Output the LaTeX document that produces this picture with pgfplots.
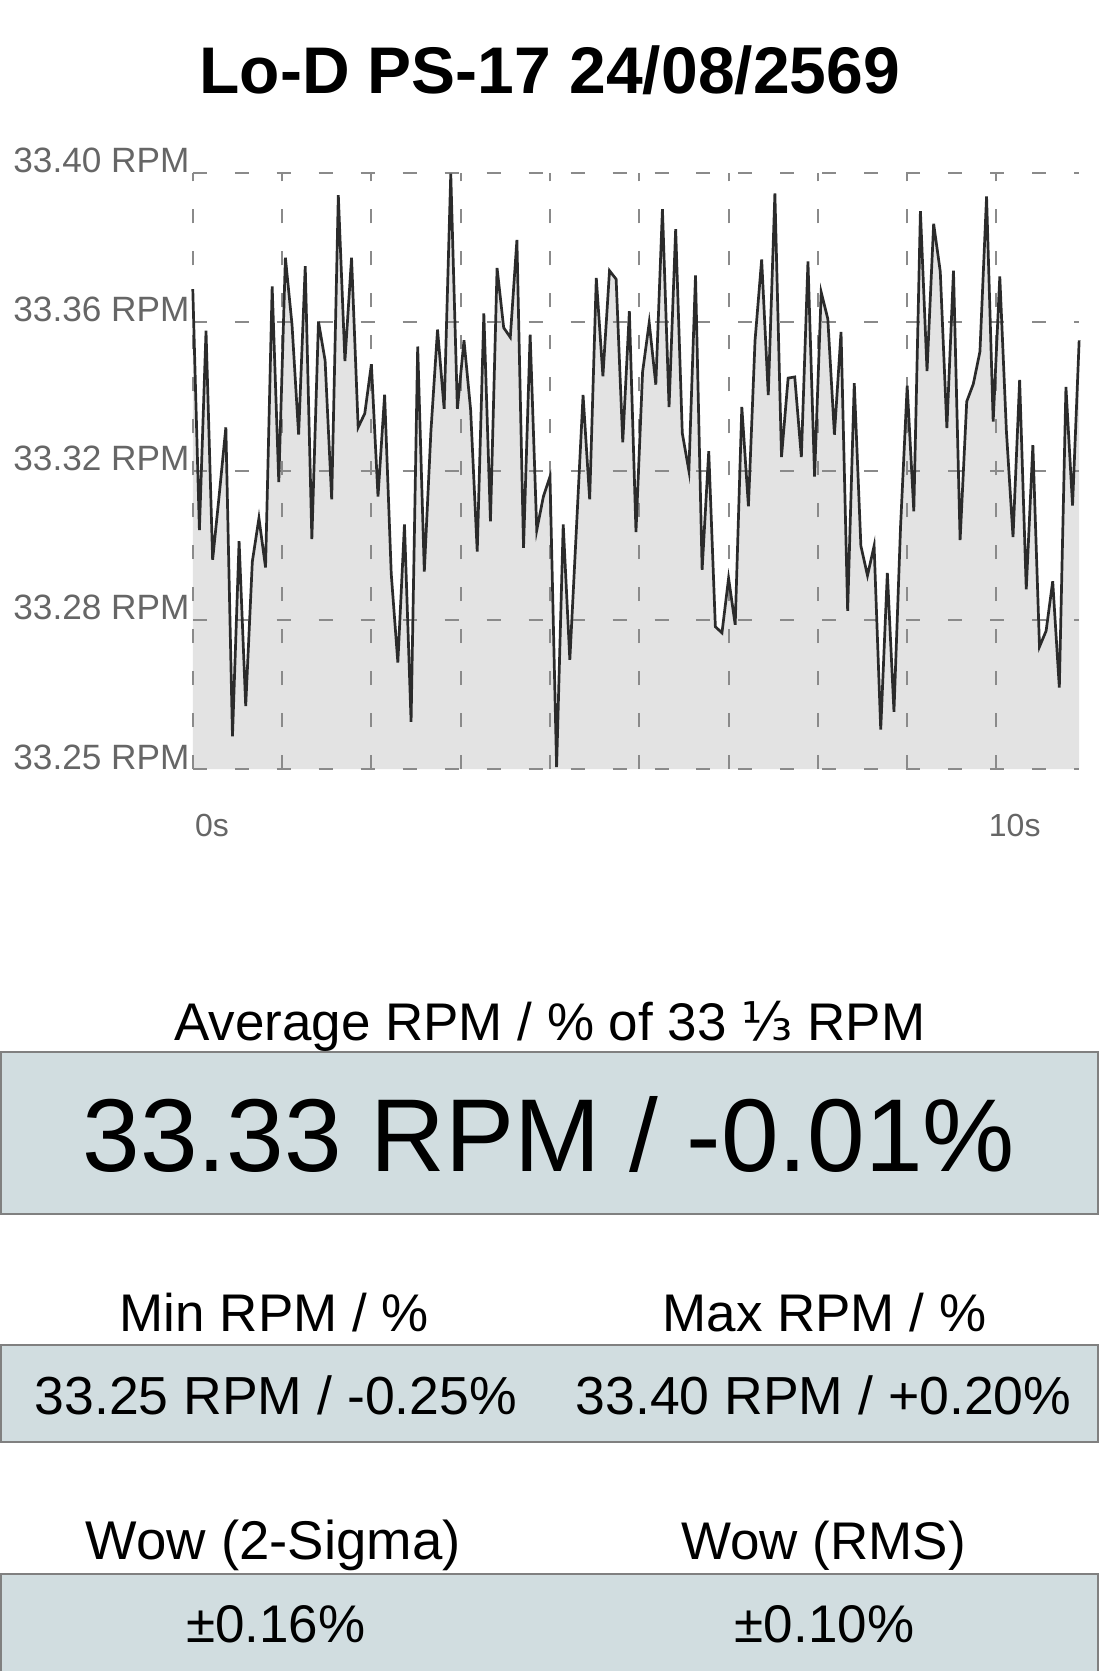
\documentclass[border=0pt]{standalone}
\usepackage{pgfplots}
\pgfplotsset{compat=1.18}
\usepackage{pgfplotstable}
\usepackage{fontspec}
\setmainfont{Liberation Sans}
\newfontfamily\djv{DejaVu Sans}
\definecolor{gridgray}{HTML}{8A8A8A}
\definecolor{fillgray}{HTML}{E3E3E3}
\definecolor{linecol}{HTML}{2B2B2B}
\definecolor{labgray}{HTML}{666666}
\definecolor{boxfill}{HTML}{D1DDE0}
\definecolor{boxdraw}{HTML}{808080}
\pgfplotstableread{
i v
0 33.3697
1 33.3071
2 33.3589
3 33.2994
4 33.3163
5 33.3338
6 33.2535
7 33.3042
8 33.2614
9 33.2989
10 33.3102
11 33.2974
12 33.3704
13 33.3196
14 33.3779
15 33.3605
16 33.3319
17 33.3757
18 33.3048
19 33.3613
20 33.3512
21 33.3151
22 33.3941
23 33.3510
24 33.3779
25 33.3338
26 33.3374
27 33.3502
28 33.3158
29 33.3423
30 33.2958
31 33.2727
32 33.3086
33 33.2573
34 33.3548
35 33.2963
36 33.3328
37 33.3592
38 33.3386
39 33.3997
40 33.3386
41 33.3564
42 33.3384
43 33.3015
44 33.3634
45 33.3094
46 33.3752
47 33.3597
48 33.3572
49 33.3825
50 33.3025
51 33.3579
52 33.3071
53 33.3158
54 33.3210
55 33.2455
56 33.3086
57 33.2734
58 33.3076
59 33.3422
60 33.3151
61 33.3726
62 33.3471
63 33.3745
64 33.3723
65 33.3299
66 33.3640
67 33.3066
68 33.3482
69 33.3610
70 33.3449
71 33.3905
72 33.3391
73 33.3853
74 33.3323
75 33.3225
76 33.3733
77 33.2968
78 33.3276
79 33.2820
80 33.2804
81 33.2946
82 33.2825
83 33.3391
84 33.3133
85 33.3564
86 33.3774
87 33.3422
88 33.3946
89 33.3261
90 33.3466
91 33.3469
92 33.3261
93 33.3769
94 33.3210
95 33.3689
96 33.3620
97 33.3319
98 33.3586
99 33.2861
100 33.3453
101 33.3030
102 33.2953
103 33.3030
104 33.2553
105 33.2960
106 33.2599
107 33.3081
108 33.3446
109 33.3120
110 33.3900
111 33.3484
112 33.3867
113 33.3743
114 33.3336
115 33.3745
116 33.3045
117 33.3405
118 33.3451
119 33.3535
120 33.3938
121 33.3353
122 33.3730
123 33.3328
124 33.3053
125 33.3461
126 33.2917
127 33.3292
128 33.2768
129 33.2809
130 33.2938
131 33.2662
132 33.3443
133 33.3135
134 33.3564
}\rpmdata
\begin{document}
\begin{tikzpicture}[x=1pt,y=1pt]
\path (0,0) rectangle (550,836);
\begin{axis}[
  set layers=standard,
  at={(96.45pt,451.2pt)}, anchor=south west,
  scale only axis, width=443.45pt, height=298.45pt,
  xmin=0, xmax=134, ymin=33.245, ymax=33.40,
  axis line style={draw=none},
  tick style={draw=none},
  major tick style={draw=none},
  xtick={0,13.5,27,40.5,54,67.5,81,94.5,108,121.5},
  xticklabels={},
  ytick={33.245,33.28375,33.3225,33.36125,33.40},
  yticklabels={33.25 RPM,33.28 RPM,33.32 RPM,33.36 RPM,33.40 RPM},
  grid=major,
  major grid style={draw=gridgray, line width=1pt, dash pattern=on 7pt off 14pt},
  yticklabel style={font=\fontsize{17.6}{17.6}\selectfont, text=labgray, anchor=base east, inner sep=0pt, xshift=-1.5pt},
  extra x ticks={0,120},
  extra x tick labels={0s,10s},
  extra x tick style={grid=none, xticklabel style={font=\fontsize{16}{16}\selectfont, text=labgray, anchor=base west, inner sep=0pt, xshift=1pt, yshift=-33.7pt}},
  clip=false,
]
\addplot[fill=fillgray, draw=none, on layer=axis background] table[x=i,y=v]{\rpmdata} \closedcycle;
\addplot[draw=linecol, line width=1.35pt, mark=none] table[x=i,y=v]{\rpmdata};
\end{axis}
\begin{scope}[every node/.style={inner sep=0pt, anchor=base}]
% title
\node[font=\bfseries\fontsize{33}{33}\selectfont] at (275,789) {Lo-D PS-17 24/08/2569};
% average
\node[font=\fontsize{26.5}{26.5}\selectfont] at (275,315.5) {Average RPM / \% of 33 {\djv ⅓} RPM};
\draw[boxdraw, fill=boxfill, line width=1pt] (0.75,228.5) rectangle (549.25,309.5);
\node[font=\fontsize{51.8}{51.8}\selectfont] at (274.5,250) {33.33 RPM / -0.01\%};
% min / max
\node[font=\fontsize{26.5}{26.5}\selectfont] at (137.25,170) {Min RPM / \%};
\node[font=\fontsize{26.5}{26.5}\selectfont] at (412.5,170) {Max RPM / \%};
\draw[boxdraw, fill=boxfill, line width=1pt] (0.75,114.5) rectangle (549.25,163);
\node[font=\fontsize{26.8}{26.8}\selectfont] at (138,128.5) {33.25 RPM / -0.25\%};
\node[font=\fontsize{26.8}{26.8}\selectfont] at (412,128.5) {33.40 RPM / +0.20\%};
% wow
\node[font=\fontsize{27.3}{27.3}\selectfont] at (136.7,56) {Wow (2-Sigma)};
\node[font=\fontsize{26.5}{26.5}\selectfont] at (412,56) {Wow (RMS)};
\fill[boxfill] (0.75,0) rectangle (549.25,48.5);
\draw[boxdraw, line width=1pt] (0.75,0) -- (0.75,48.5) -- (549.25,48.5) -- (549.25,0);
\node[font=\fontsize{26.5}{26.5}\selectfont] at (138,14.5) {±0.16\%};
\node[font=\fontsize{26.5}{26.5}\selectfont] at (412.5,14.5) {±0.10\%};
\end{scope}
\end{tikzpicture}
\end{document}
